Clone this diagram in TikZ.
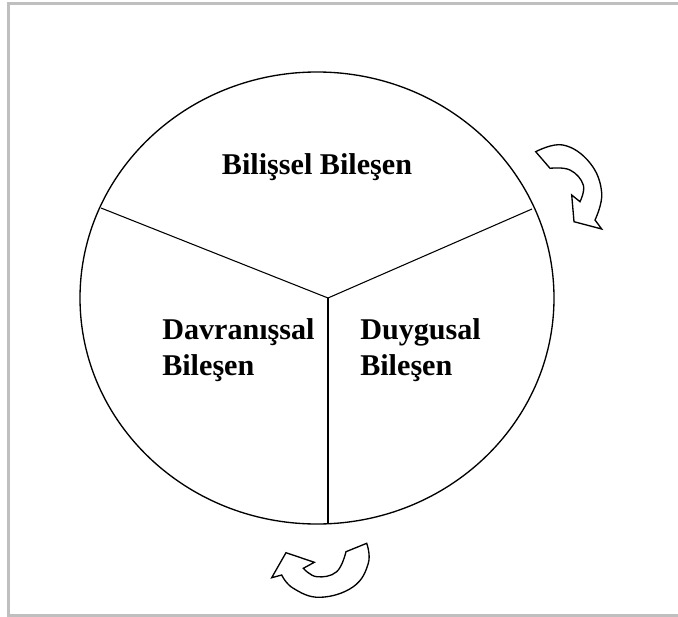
\documentclass[tikz,border=0pt]{standalone}
\usepackage{fontspec}
\setmainfont{Liberation Serif}
\usetikzlibrary{positioning, calc}

\begin{document}
\begin{tikzpicture}[
    x=0.75pt, y=-0.75pt,
    frame/.style={draw=black!25, line width=2.2pt},
    wheel/.style={draw, line width=1pt},
    spoke/.style={draw, line width=0.8pt},
    label/.style={font=\bfseries\fontsize{22.6}{26.3}\selectfont, inner sep=0pt, align=left},
    turn/.style={draw, line width=1pt, fill=white, line join=miter}
]
\useasboundingbox (0,0) rectangle (678,617);

% Cerceve
\draw[frame] (8.5,700) -- (8.5,3.5) -- (700,3.5);
\draw[frame] (8.5,615.5) -- (700,615.5);

% Daire ve bolmeler
\draw[wheel] (317,298) ellipse (237 and 226);
\coordinate (hub) at (328,298);
\coordinate (cutL) at (101,208);
\coordinate (cutR) at (532,209);
\coordinate (cutB) at (328,524);
\draw[spoke] (hub) -- (cutL);
\draw[spoke] (hub) -- (cutR);
\draw[spoke] (hub) -- (cutB);

% Bilesenler
\node[label, anchor=base] (bilis) at (317,174) {Bilişsel Bileşen};
\node[label, anchor=base west] (davran) at (162,375) {Davranışsal\\Bileşen};
\node[label, anchor=base west] (duygu) at (360,375) {Duygusal\\Bileşen};

% Donus oklari
\draw[turn] plot[smooth, tension=0.7] coordinates {(535.7,151.7) (563,145) (590,163) (601.7,193) (595,220)}
    -- (601.7,229) -- (574,221.7) -- (571.7,195) -- (580,201.7)
    -- plot[smooth, tension=0.7] coordinates {(580,201.7) (583.3,185) (570,170) (550,168.3)} -- cycle;
\draw[turn] plot[smooth, tension=0.7] coordinates {(366.7,543.3) (368.3,563.3) (353.3,586.7) (320,597.3) (293.3,588.3) (281.7,575)}
    -- (271.7,577.7) -- (286,552.7) -- (314.3,562.3) -- (303.3,568.3)
    -- plot[smooth, tension=0.7] coordinates {(303.3,568.3) (316.7,576.7) (336.7,571.7) (346,551.7)} -- cycle;

\end{tikzpicture}
\end{document}
